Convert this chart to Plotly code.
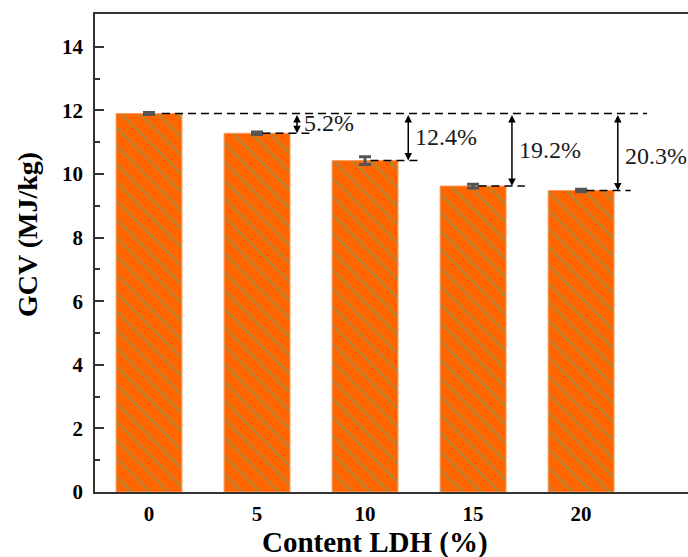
import plotly.graph_objects as go

# LDH content (%) and gross calorific value (MJ/kg)
ldh_content = [0, 5, 10, 15, 20]
gcv = [11.90, 11.28, 10.42, 9.62, 9.48]
gcv_err = [0.03, 0.04, 0.12, 0.06, 0.04]
y_ticks = [0, 2, 4, 6, 8, 10, 12, 14]

# horizontal offset of each reduction arrow from its bar (x units)
arrow_offset = [1.85, 2.0, 1.8, 1.7]

SERIF = "Times New Roman, Liberation Serif, serif"
base = gcv[0]

fig = go.Figure()
fig.add_trace(go.Bar(
    x=ldh_content, y=gcv, width=3.05,
    marker=dict(
        color="#FF6600",
        line=dict(color="#FF9A60", width=1),
        pattern=dict(shape="\\", fgcolor="#A88A3E", size=13, solidity=0.15, fgopacity=1),
    ),
    error_y=dict(type="data", array=gcv_err, color="#555555", thickness=3, width=6),
    showlegend=False,
))

dash_line = dict(color="black", width=1.5, dash="8px,5px")

# reference level of the untreated sample
fig.add_trace(go.Scatter(
    x=[ldh_content[0] + 0.6, ldh_content[-1] + arrow_offset[-1] + 1.35],
    y=[base, base], mode="lines", line=dash_line, showlegend=False, hoverinfo="skip",
))

annotations = []
for i, (xc, v, off) in enumerate(zip(ldh_content[1:], gcv[1:], arrow_offset)):
    ax_x = xc + off
    # level of each blended sample
    fig.add_trace(go.Scatter(
        x=[xc + 0.25, ax_x + 0.6], y=[v, v], mode="lines",
        line=dash_line, showlegend=False, hoverinfo="skip",
    ))
    # double-headed arrow spanning the reduction
    annotations.append(dict(
        x=ax_x, y=v, ax=ax_x, ay=base, xref="x", yref="y", axref="x", ayref="y",
        text="", showarrow=True, arrowhead=2, arrowsize=1, arrowwidth=1.5,
        arrowside="end+start", arrowcolor="black", standoff=0, startstandoff=0,
    ))
    pct = (1 - v / base) * 100
    annotations.append(dict(
        x=ax_x, y=(base + v) / 2, xref="x", yref="y", text=f"{pct:.1f}%",
        showarrow=False, xanchor="left", yanchor="middle", xshift=5,
        yshift=-4 if i == len(arrow_offset) - 1 else 0,
        font=dict(family=SERIF, size=24, color="#1a1a1a"),
    ))

# axis titles
annotations.append(dict(
    text="<b>Content LDH (%)</b>", xref="paper", yref="paper", x=0.472, y=0,
    xanchor="center", yanchor="middle", yshift=-50, showarrow=False,
    font=dict(family=SERIF, size=29, color="black"),
))
annotations.append(dict(
    text="<b>GCV (MJ/kg)</b>", xref="paper", yref="paper", x=0, y=0.5,
    xanchor="center", yanchor="middle", xshift=-68, yshift=18, textangle=-90,
    showarrow=False, font=dict(family=SERIF, size=28, color="black"),
))

fig.update_layout(
    width=688, height=557,
    margin=dict(l=95, r=0, t=14, b=65),
    paper_bgcolor="white", plot_bgcolor="white",
    font=dict(family=SERIF),
    annotations=annotations,
    xaxis=dict(
        range=[-2.5, 24.95], tickvals=ldh_content, ticks="",
        showline=True, linecolor="#333333", linewidth=1.5, mirror=True,
        showgrid=False, zeroline=False, ticklabelstandoff=2,
        tickfont=dict(family=SERIF, size=21, color="black", weight="bold"),
    ),
    yaxis=dict(
        range=[0, 15.03], tickvals=y_ticks, ticks="inside", ticklen=9,
        tickwidth=1.5, tickcolor="#333333",
        minor=dict(dtick=1, ticks="inside", ticklen=5, tickwidth=1.5, tickcolor="#333333"),
        showline=True, linecolor="#333333", linewidth=1.5, mirror=False,
        showgrid=False, zeroline=False, ticklabelstandoff=6,
        tickfont=dict(family=SERIF, size=21, color="black", weight="bold"),
    ),
)

fig.write_html("out.html")
